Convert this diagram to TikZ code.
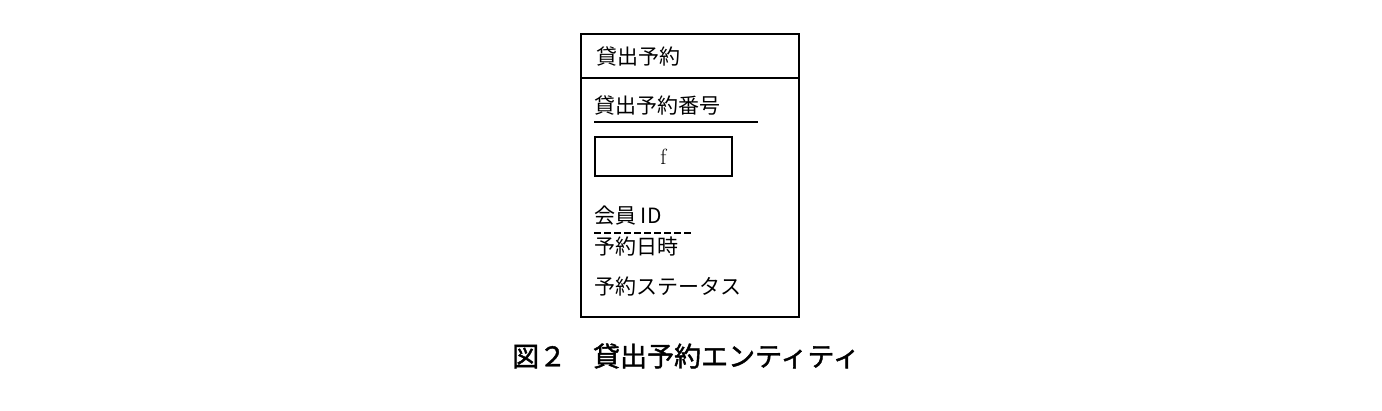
\documentclass[tikz,border=0pt]{standalone}
\usepackage{fontspec}
\newfontfamily\cjk{Noto Sans CJK JP}
\newfontfamily\cjkb{Noto Sans CJK JP}[FakeBold=1.5]
\begin{document}
\begin{tikzpicture}[x=1pt,y=-1pt,
  lbl/.style={anchor=west,inner sep=0pt,font=\cjk\fontsize{21}{21}\selectfont},
  frame/.style={draw,line width=1.6pt}]
\useasboundingbox (0,0) rectangle (1382,410);
\node[frame,minimum width=218,minimum height=283,inner sep=0pt,anchor=north west] (ent) at (580,33) {};
\coordinate (hl) at (580,78);
\coordinate (hr) at (798,78);
\draw[line width=1.4pt] (hl) -- (hr);
\node[lbl] (title) at (596,57) {貸出予約};
\node[lbl] (pk) at (594,106) {貸出予約番号};
\draw[line width=1.3pt] (594,122) -- (758,122);
\node[frame,line width=2pt,minimum width=137,minimum height=39,inner sep=0pt,anchor=north west,font=\fontsize{22}{22}\selectfont] (f) at (594,136) {f};
\node[lbl] (mid) at (594,216) {会員 ID};
\draw[line width=1.3pt,dash pattern=on 7pt off 3pt] (594,233) -- (692,233);
\node[lbl] (dt) at (594,247) {予約日時};
\node[lbl] (st) at (594,287) {予約ステータス};
\node[inner sep=0pt,font=\cjkb\fontsize{27}{27}\selectfont] (cap) at (686,356) {図２\hspace{1em}貸出予約エンティティ};
\end{tikzpicture}
\end{document}
